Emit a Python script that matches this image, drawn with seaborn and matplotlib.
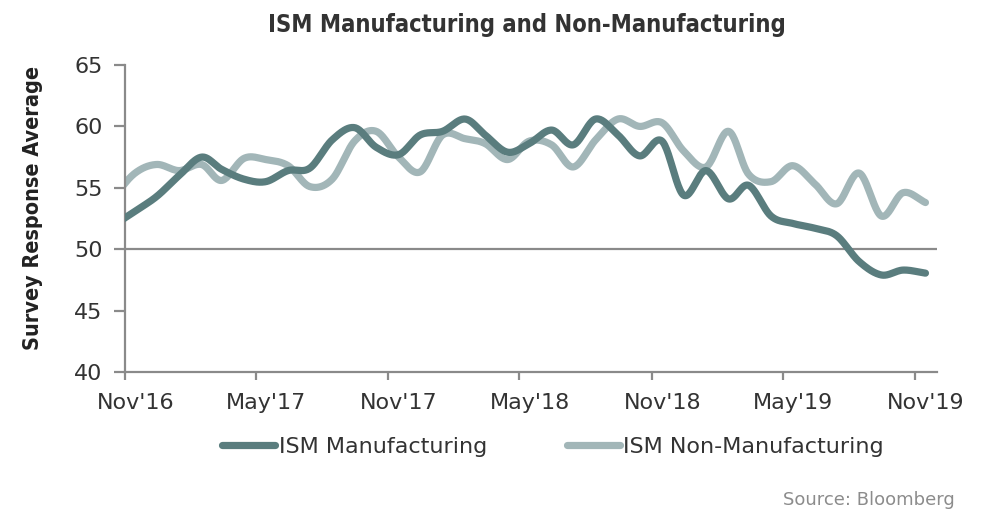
import numpy as np
import pandas as pd
import matplotlib
matplotlib.use("Agg")
import matplotlib.pyplot as plt
import matplotlib.dates as mdates
import matplotlib.transforms as mtransforms
import seaborn as sns

# ---------------- data (monthly, Oct'16 .. Nov'19) ----------------
months = pd.date_range("2016-10-01", "2019-11-01", freq="MS")
ism_manufacturing = [
    51.9, 53.1, 54.3, 56.0, 57.5, 56.5, 55.7, 55.5, 56.4, 56.6,
    58.9, 59.9, 58.3, 57.7, 59.3, 59.6, 60.6, 59.3, 57.9, 58.6,
    59.7, 58.5, 60.6, 59.3, 57.6, 58.8, 54.4, 56.4, 54.1, 55.2,
    52.7, 52.1, 51.7, 51.1, 49.0, 47.9, 48.3, 48.05,
]
ism_non_manufacturing = [
    54.2, 56.2, 56.9, 56.4, 56.9, 55.6, 57.4, 57.3, 56.8, 55.1,
    55.7, 58.8, 59.6, 57.5, 56.3, 59.3, 59.0, 58.6, 57.3, 58.8,
    58.5, 56.7, 58.9, 60.6, 60.0, 60.3, 58.0, 56.7, 59.6, 56.1,
    55.5, 56.8, 55.3, 53.7, 56.2, 52.7, 54.6, 53.8,
]
series_names = ["ISM Manufacturing", "ISM Non-Manufacturing"]
tick_dates = ["2016-11-01", "2017-05-01", "2017-11-01", "2018-05-01",
              "2018-11-01", "2019-05-01", "2019-11-01"]
tick_labels = ["Nov'16", "May'17", "Nov'17", "May'18", "Nov'18", "May'19", "Nov'19"]
y_ticks = [40, 45, 50, 55, 60, 65]

# ---------------- style ----------------
sns.set_theme(style="white")
plt.rcParams["font.family"] = ["DejaVu Sans"]
DARK = "#5a7d7e"
LIGHT = "#a2b6b8"
AXIS = "#8a8a8a"
TEXT = "#333333"


def catmull_rom(vals, n=24):
    y = np.asarray(vals, float)
    p = np.concatenate([[2 * y[0] - y[1]], y, [2 * y[-1] - y[-2]]])
    t = np.linspace(0, 1, n, endpoint=False)
    out = []
    for i in range(1, len(p) - 2):
        p0, p1, p2, p3 = p[i - 1], p[i], p[i + 1], p[i + 2]
        out.append(0.5 * (2 * p1 + (-p0 + p2) * t
                          + (2 * p0 - 5 * p1 + 4 * p2 - p3) * t ** 2
                          + (-p0 + 3 * p1 - 3 * p2 + p3) * t ** 3))
    out.append([y[-1]])
    return np.concatenate(out)


xpos = mdates.date2num(months + pd.Timedelta(days=14))
frames = []
for name, vals in zip(series_names, [ism_manufacturing, ism_non_manufacturing]):
    frames.append(pd.DataFrame({
        "x": catmull_rom(xpos),
        "value": catmull_rom(vals),
        "series": name,
    }))
df = pd.concat(frames, ignore_index=True)

fig = plt.figure(figsize=(9.88, 5.13), dpi=100)
ax = fig.add_axes([125 / 988, 1 - 372 / 513, (937 - 125) / 988, (372 - 65) / 513])

sns.lineplot(data=df, x="x", y="value", hue="series", hue_order=series_names,
             palette=[DARK, LIGHT], linewidth=5.2, estimator=None, sort=False,
             ax=ax, legend=False)
for ln in ax.get_lines():
    ln.set_solid_capstyle("round")
    ln.set_solid_joinstyle("round")
ax.get_lines()[0].set_zorder(3)
ax.get_lines()[1].set_zorder(2)

ax.axhline(50, color=AXIS, lw=1.6, zorder=1)

ax.set_xlim(mdates.date2num(pd.Timestamp("2016-11-01")),
            mdates.date2num(pd.Timestamp("2019-12-01")))
ax.set_ylim(40, 65)
ax.set_xticks(mdates.date2num(pd.to_datetime(tick_dates)))
ax.set_xticklabels(tick_labels)
ax.set_yticks(y_ticks)
ax.set_xlabel("")
ax.set_ylabel("Survey Response Average", fontsize=15.5, fontweight="bold",
              fontstretch="condensed", color="#222222")
ax.yaxis.set_label_coords((43 - 125) / 812, (372 - 208) / 307)

sns.despine(ax=ax)
for s in ("left", "bottom"):
    ax.spines[s].set_color(AXIS)
    ax.spines[s].set_linewidth(1.6)
ax.tick_params(axis="both", colors=AXIS, width=1.6, direction="out",
               labelcolor=TEXT, labelsize=16, bottom=True, left=True)
ax.tick_params(axis="x", length=6, pad=9)
ax.tick_params(axis="y", length=8, pad=8)
shift = mtransforms.ScaledTranslation(0.105, 0, fig.dpi_scale_trans)
for lab in ax.get_xticklabels():
    lab.set_transform(lab.get_transform() + shift)

fig.text(527 / 988, 1 - 25 / 513, "ISM Manufacturing and Non-Manufacturing",
         ha="center", va="center", fontsize=17, fontweight="bold",
         fontstretch="condensed", color=TEXT)

handles = [plt.Line2D([], [], color=c, lw=5.2, solid_capstyle="round") for c in (DARK, LIGHT)]
fig.legend(handles, series_names, loc="center", bbox_to_anchor=(553 / 988, 1 - 447 / 513),
           ncol=2, frameon=False, handlelength=2.4, handletextpad=0.15,
           columnspacing=3.6, prop={"size": 16}, labelcolor=TEXT)

fig.text(955 / 988, 1 - 500 / 513, "Source: Bloomberg", ha="right", va="center",
         fontsize=13, color="#8c8c8c")

fig.savefig("out.png", dpi=100)
